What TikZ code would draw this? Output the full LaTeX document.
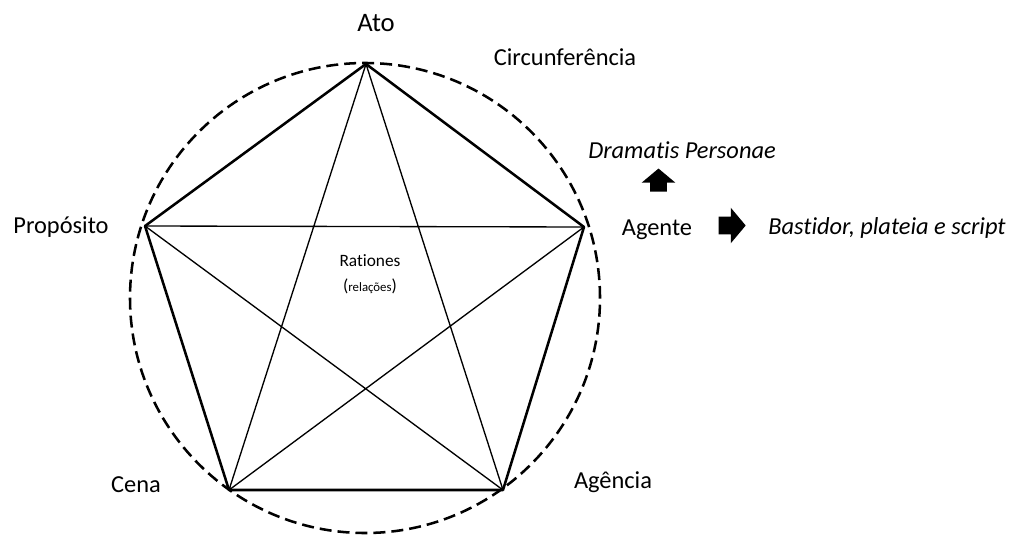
\documentclass[tikz,border=0pt]{standalone}
\usepackage{fontspec}
\setmainfont{Carlito}[Ligatures=NoCommon]
\usetikzlibrary{shapes.arrows,positioning}

\begin{document}
\begin{tikzpicture}[x=0.75pt,y=-0.75pt,
    lbl/.style={font=\fontsize{18.3}{20}\selectfont,anchor=base,inner sep=0pt},
    side/.style={line width=1.9pt,line join=round},
    star/.style={line width=1pt},
    circ/.style={line width=1.9pt,dash pattern=on 9pt off 4.5pt},
    blk/.style={single arrow,fill=black,inner xsep=0pt,minimum width=0pt,
      single arrow tip angle=100}]
 \useasboundingbox (0,0) rectangle (1016,535);
 % vertices of the pentagon
 \coordinate (ato) at (366,64);
 \coordinate (agt) at (584,227);
 \coordinate (agc) at (503,490);
 \coordinate (cen) at (229,490);
 \coordinate (pro) at (145,226);
 \draw[circ] (365,298) circle [radius=176.25pt];
 \draw[side] (ato) -- (agt) -- (agc) -- (cen) -- (pro) -- cycle;
 \draw[star] (ato) -- (agc) (ato) -- (cen)
  (agt) -- (pro) (agt) -- (cen) (pro) -- (agc);
 % labels
 \node[lbl,font=\fontsize{20}{22}\selectfont] (Ato) at (376,32) {Ato};
 \node[lbl] (Circ) at (565,65) {Circunferência};
 \node[lbl] (Agente) at (657,235) {Agente};
 \node[lbl] (Prop) at (61,233) {Propósito};
 \node[lbl] (Cena) at (136,492) {Cena};
 \node[lbl] (Agencia) at (613,488) {Agência};
 \node[lbl,font=\itshape\fontsize{18.3}{20}\selectfont] (Drama) at (682,158) {Dramatis Personae};
 \node[lbl,font=\itshape\fontsize{18.3}{20}\selectfont] (Bast) at (887,234) {Bastidor, plateia e script};
 \node[align=center,font=\fontsize{13}{19}\selectfont] (Rat) at (370,274)
  {Rationes\\(\fontsize{9.6}{10}\selectfont relações\fontsize{13}{19}\selectfont)};
 % block arrows
 \node[blk,rotate=90,inner ysep=6pt,single arrow head extend=6.4pt,
  minimum height=17.25pt] (up) at (658.5,183.5) {};
 \node[blk,inner ysep=6.4pt,single arrow head extend=6.75pt,
  minimum height=20.25pt] (rt) at (728.5,225.5) {};
\end{tikzpicture}
\end{document}
